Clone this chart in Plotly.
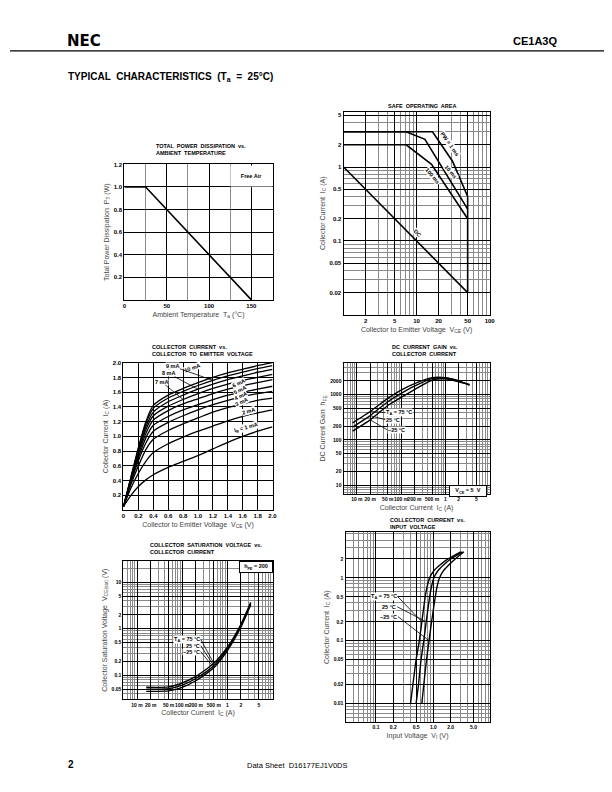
import math
import plotly.graph_objects as go

W, H = 612, 792

# ---- total power dissipation vs ambient temperature
pt_temp = [0, 25, 150]
pt_watt = [1.0, 1.0, 0.0]

# ---- safe operating area
soa_v_1ms = [1, 16.5, 31, 50, 50]
soa_i_1ms = [3, 3, 1.2, 0.4, 0.02]
soa_v_10ms = [1, 7.2, 13, 50]
soa_i_10ms = [3, 3, 2.37, 0.27]
soa_v_100ms = [1, 7.2, 16, 50]
soa_i_100ms = [2, 2, 1.09, 0.2]
soa_v_dc = [1, 50]
soa_i_dc = [1, 0.02]

# ---- collector current vs collector to emitter voltage (IB = 1..10 mA)
vce = [0, 0.1, 0.2, 0.3, 0.4, 0.6, 0.8, 1.0, 1.2, 1.4, 1.6, 1.8, 2.0]
ic_ib = {
    10: [0.05, 0.45, 0.85, 1.20, 1.42, 1.56, 1.65, 1.73, 1.80, 1.86, 1.91, 1.96, 2.00],
    9: [0.05, 0.44, 0.83, 1.17, 1.38, 1.52, 1.61, 1.69, 1.76, 1.82, 1.87, 1.92, 1.96],
    8: [0.05, 0.43, 0.81, 1.13, 1.33, 1.47, 1.56, 1.64, 1.71, 1.77, 1.82, 1.87, 1.91],
    7: [0.05, 0.42, 0.78, 1.09, 1.28, 1.41, 1.50, 1.58, 1.65, 1.71, 1.76, 1.80, 1.84],
    6: [0.05, 0.41, 0.75, 1.04, 1.22, 1.35, 1.44, 1.51, 1.58, 1.64, 1.69, 1.73, 1.77],
    5: [0.05, 0.40, 0.71, 0.98, 1.15, 1.27, 1.36, 1.43, 1.50, 1.56, 1.60, 1.64, 1.68],
    4: [0.05, 0.38, 0.67, 0.91, 1.07, 1.19, 1.28, 1.36, 1.43, 1.49, 1.54, 1.58, 1.61],
    3: [0.05, 0.35, 0.60, 0.82, 0.96, 1.08, 1.17, 1.25, 1.33, 1.39, 1.44, 1.49, 1.52],
    2: [0.05, 0.30, 0.50, 0.66, 0.78, 0.90, 0.99, 1.07, 1.14, 1.21, 1.27, 1.32, 1.36],
    1: [0.05, 0.20, 0.32, 0.41, 0.48, 0.58, 0.66, 0.74, 0.83, 0.92, 1.00, 1.07, 1.13],
}

# ---- DC current gain vs collector current (VCE = 5 V)
gain_ic = [0.008, 0.02, 0.05, 0.1, 0.2, 0.5, 1, 2, 3.5]
gain_75 = [235, 420, 820, 1240, 1730, 2340, 2340, 1980, 1600]
gain_25 = [190, 340, 690, 1050, 1520, 2230, 2300, 1980, 1600]
gain_m25 = [155, 275, 570, 860, 1280, 2050, 2200, 1900, 1650]

# ---- collector saturation voltage vs collector current (hFE = 200)
sat_ic = [0.016, 0.05, 0.1, 0.2, 0.5, 1, 2, 3.3]
sat_75 = [0.055, 0.056, 0.068, 0.094, 0.18, 0.40, 1.25, 3.7]
sat_25 = [0.050, 0.051, 0.061, 0.085, 0.16, 0.37, 1.18, 3.5]
sat_m25 = [0.045, 0.046, 0.055, 0.076, 0.145, 0.34, 1.10, 3.3]

# ---- collector current vs input voltage
vin_ic = [0.01, 0.02, 0.05, 0.1, 0.2, 0.5, 0.7, 1.0, 1.3, 1.6, 2.0, 2.6]
vin_75 = [0.40, 0.44, 0.50, 0.57, 0.63, 0.72, 0.77, 0.86, 1.02, 1.30, 1.80, 3.0]
vin_25 = [0.50, 0.55, 0.61, 0.68, 0.75, 0.86, 0.92, 1.02, 1.20, 1.50, 2.00, 3.2]
vin_m25 = [0.63, 0.68, 0.76, 0.84, 0.93, 1.08, 1.15, 1.28, 1.50, 1.85, 2.40, 3.4]


def fx(x):
    return x / W


def fy(y):
    return 1 - y / H


def decades(lo, hi):
    return [m * 10.0 ** e for e in range(lo, hi) for m in range(1, 10)]


TICKFONT = dict(family="Liberation Sans", size=6, color="black", weight="bold")
TITLEFONT = dict(family="Liberation Sans", size=7, color="#444")


def axis(x0, x1, anchor, title, tickvals, ticktext, minor_vals=None, **kw):
    d = dict(domain=[fx(x0), fx(x1)], anchor=anchor, showline=True, linecolor="black",
             linewidth=1.3, mirror=True, showgrid=True, gridcolor="black", gridwidth=0.9,
             ticks="", zeroline=False, tickfont=TICKFONT, tickmode="array", tickangle=0,
             tickvals=tickvals, ticktext=ticktext,
             title=dict(text=title, font=TITLEFONT, standoff=3))
    if minor_vals is not None:
        d["minor"] = dict(tickmode="array", tickvals=minor_vals, showgrid=True,
                          gridcolor="#8a8a8a", gridwidth=0.7)
    d.update(kw)
    return d


def yaxis(y0, y1, anchor, title, tickvals, ticktext, minor_vals=None, **kw):
    d = axis(0, 0, anchor, title, tickvals, ticktext, minor_vals, **kw)
    d["domain"] = [fy(y1), fy(y0)]
    return d


fig = go.Figure()
line = dict(color="black", width=1.6)
curve = dict(color="black", width=1.4, shape="spline", smoothing=0.6)

# 1
fig.add_trace(go.Scatter(x=pt_temp, y=pt_watt, mode="lines", line=line, xaxis="x", yaxis="y"))
# 2
for v, i in [(soa_v_1ms, soa_i_1ms), (soa_v_10ms, soa_i_10ms), (soa_v_100ms, soa_i_100ms), (soa_v_dc, soa_i_dc)]:
    fig.add_trace(go.Scatter(x=v, y=i, mode="lines", line=line, xaxis="x2", yaxis="y2"))
# 3
for ib, ic in ic_ib.items():
    fig.add_trace(go.Scatter(x=vce, y=ic, mode="lines", line=dict(curve, width=1.3),
                             xaxis="x3", yaxis="y3"))
# 4
for g in (gain_75, gain_25, gain_m25):
    fig.add_trace(go.Scatter(x=gain_ic, y=g, mode="lines", line=curve, xaxis="x4", yaxis="y4"))
# 5
for s in (sat_75, sat_25, sat_m25):
    fig.add_trace(go.Scatter(x=sat_ic, y=s, mode="lines", line=curve, xaxis="x5", yaxis="y5"))
# 6
for v in (vin_75, vin_25, vin_m25):
    fig.add_trace(go.Scatter(x=v, y=vin_ic, mode="lines", line=curve, xaxis="x6", yaxis="y6"))

milli = ["10 m", "20 m", "50 m", "100 m", "200 m", "500 m", "1", "2", "5"]
milli_v = [0.01, 0.02, 0.05, 0.1, 0.2, 0.5, 1, 2, 5]
SMALL = dict(TICKFONT, size=5)

fig.update_layout(
    width=W, height=792, margin=dict(l=0, r=0, t=0, b=0),
    paper_bgcolor="white", plot_bgcolor="white", showlegend=False,
    xaxis=axis(116, 266, "y", "Ambient Temperature  T<sub>a</sub> (°C)",
               [0, 50, 100, 150], ["0", "50", "100", "150"], [25, 75, 125, 175],
               range=[0, 175]),
    yaxis=yaxis(154, 290, "x", "Total Power Dissipation  P<sub>T</sub> (W)",
                [0.2, 0.4, 0.6, 0.8, 1.0, 1.2], ["0.2", "0.4", "0.6", "0.8", "1.0", "1.2"],
                range=[0, 1.2]),
    xaxis2=axis(338, 486, "y2", "Collector to Emitter Voltage  V<sub>CE</sub> (V)",
                [2, 5, 10, 20, 50, 100], ["2", "5", "10", "20", "50", "100"],
                decades(0, 2), type="log", range=[0, 2]),
    yaxis2=yaxis(101, 305, "x2", "Collector Current  I<sub>C</sub> (A)",
                 [0.02, 0.05, 0.1, 0.2, 0.5, 1, 2, 5],
                 ["0.02", "0.05", "0.1", "0.2", "0.5", "1", "2", "5"],
                 decades(-2, 1), type="log", range=[-2, 0.75]),
    xaxis3=axis(115, 266, "y3", "Collector to Emitter Voltage  V<sub>CE</sub> (V)",
                [0, 0.2, 0.4, 0.6, 0.8, 1.0, 1.2, 1.4, 1.6, 1.8, 2.0],
                ["0", "0.2", "0.4", "0.6", "0.8", "1.0", "1.2", "1.4", "1.6", "1.8", "2.0"],
                range=[0, 2.0]),
    yaxis3=yaxis(353, 501, "x3", "Collector Current  I<sub>C</sub> (A)",
                 [0.2, 0.4, 0.6, 0.8, 1.0, 1.2, 1.4, 1.6, 1.8, 2.0],
                 ["0.2", "0.4", "0.6", "0.8", "1.0", "1.2", "1.4", "1.6", "1.8", "2.0"],
                 range=[0, 2.0]),
    xaxis4=axis(338, 486, "y4", "Collector Current  I<sub>C</sub> (A)", milli_v, milli,
                decades(-3, 1), type="log", range=[-2.3, 1.0], tickfont=SMALL),
    yaxis4=yaxis(353, 485, "x4", "DC Current Gain  h<sub>FE</sub>",
                 [10, 20, 50, 100, 200, 500, 1000, 2000],
                 ["10", "20", "50", "100", "200", "500", "1000", "2000"],
                 decades(0, 4), type="log", range=[0.8, 3.7], tickfont=SMALL),
    xaxis5=axis(115, 266, "y5", "Collector Current  I<sub>C</sub> (A)", milli_v, milli,
                decades(-3, 1), type="log", range=[-2.3, 1.0], tickfont=SMALL),
    yaxis5=yaxis(552, 691, "x5", "Collector Saturation Voltage  V<sub>CE(sat)</sub> (V)",
                 [0.05, 0.1, 0.2, 0.5, 1, 2, 5, 10],
                 ["0.05", "0.1", "0.2", "0.5", "1", "2", "5", "10"],
                 decades(-2, 2), type="log", range=[-1.52, 1.46], tickfont=SMALL),
    xaxis6=axis(340, 486, "y6", "Input Voltage  V<sub>I</sub> (V)",
                [0.1, 0.2, 0.5, 1, 2, 5], ["0.1", "0.2", "0.5", "1.0", "2.0", "5.0"],
                decades(-2, 1), type="log", range=[-1.53, 0.98], tickfont=SMALL),
    yaxis6=yaxis(523, 714, "x6", "Collector Current  I<sub>C</sub> (A)",
                 [0.01, 0.02, 0.05, 0.1, 0.2, 0.5, 1, 2],
                 ["0.01", "0.02", "0.05", "0.1", "0.2", "0.5", "1", "2"],
                 decades(-3, 1), type="log", range=[-2.3, 0.73], tickfont=SMALL),
)

ann = []


def page_text(x, y, text, size, bold=False, anchor="left", color="black", family="Liberation Sans"):
    ann.append(dict(x=fx(x), y=fy(y), xref="paper", yref="paper", text=text, showarrow=False,
                    xanchor=anchor, yanchor="middle", align="left",
                    font=dict(family=family, size=size, color=color,
                              weight="bold" if bold else "normal")))


# page texts
page_text(56, 30, "NEC", 15, True, family="DejaVu Sans")
page_text(556, 30, "CE1A3Q", 11, True, "right")
page_text(57, 66, "TYPICAL  CHARACTERISTICS  (T<sub>a</sub>  =  25°C)", 10, True)
page_text(57, 756, "2", 10, True)
page_text(291, 757, "Data Sheet  D16177EJ1V0DS", 7.5, False, "center")

# chart titles
CT = 5.5
page_text(146, 139, "TOTAL  POWER  DISSIPATION  vs.<br>AMBIENT  TEMPERATURE", CT, True)
page_text(381, 95, "SAFE  OPERATING  AREA", CT, True)
page_text(142, 341, "COLLECTOR  CURRENT  vs.<br>COLLECTOR  TO  EMITTER  VOLTAGE", CT, True)
page_text(385, 341, "DC  CURRENT  GAIN  vs.<br>COLLECTOR  CURRENT", CT, True)
page_text(140, 540, "COLLECTOR  SATURATION  VOLTAGE  vs.<br>COLLECTOR  CURRENT", CT, True)
page_text(383, 514, "COLLECTOR  CURRENT  vs.<br>INPUT  VOLTAGE", CT, True)

LF = dict(family="Liberation Sans", size=5.5, color="black", weight="bold")


def label(xr, yr, x, y, text, angle=0, ax=None, ay=None, bg=None, **kw):
    d = dict(xref=xr, yref=yr, x=x, y=y, text=text, textangle=angle, font=LF,
             showarrow=ax is not None, arrowhead=0, arrowwidth=0.8, arrowcolor="black")
    if ax is not None:
        d.update(ax=ax, ay=ay)
    if bg:
        d.update(bgcolor=bg, borderpad=0)
    d.update(kw)
    ann.append(d)


lg = math.log10

# chart 1 box
label("x", "y", 150, 1.1, "Free Air", bg="white", width=41, height=20)
# chart 2 pulse labels
label("x2", "y2", lg(28.5), lg(2.05), "PW = 1 ms", 55, bg="white")
label("x2", "y2", lg(29.5), lg(0.86), "10 ms", 50, bg="white")
label("x2", "y2", lg(16.5), lg(0.75), "100 ms", 50, bg="white")
label("x2", "y2", lg(10.3), lg(0.13), "DC", 45, bg="white")
# chart 3 base current labels
label("x3", "y3", 0.92, 1.93, "10 mA", -20, bg="white")
label("x3", "y3", vce[8], ic_ib[9][8], "9 mA", 0, -40, -14, bg="white")
label("x3", "y3", vce[7], ic_ib[8][7], "8 mA", 0, -30, -16, bg="white")
label("x3", "y3", vce[6], ic_ib[7][6], "7 mA", 0, -22, -18, bg="white")
label("x3", "y3", 1.55, 1.725, "6 mA", -25, bg="white")
label("x3", "y3", 1.56, 1.635, "5 mA", -25, bg="white")
label("x3", "y3", 1.57, 1.55, "4 mA", -25, bg="white")
label("x3", "y3", 1.58, 1.46, "3 mA", -25, bg="white")
label("x3", "y3", 1.68, 1.34, "2 mA", -15, bg="white")
label("x3", "y3", 1.65, 1.12, "I<sub>B</sub> = 1 mA", -15, bg="white")
# chart 4
label("x4", "y4", lg(gain_ic[1]), lg(gain_75[1]), "T<sub>A</sub> = 75 °C", 0, 15, 1,
      bg="white", xanchor="left")
label("x4", "y4", lg(gain_ic[1]), lg(gain_25[1]), "25 °C", 0, 15, 4, bg="white", xanchor="left")
label("x4", "y4", lg(gain_ic[1]), lg(gain_m25[1]), "−25 °C", 0, 17, 10, bg="white", xanchor="left")
label("x4", "y4", lg(3.3), lg(7.6), "V<sub>CE</sub> = 5  V", bg="white",
      bordercolor="black", borderwidth=1, width=36, height=10)
# chart 5
label("x5", "y5", lg(sat_ic[4]), lg(sat_75[4]), "T<sub>A</sub> = 75 °C", 0, -13, -24,
      bg="white", xanchor="right")
label("x5", "y5", lg(sat_ic[4]), lg(sat_25[4]), "25 °C", 0, -13, -20, bg="white", xanchor="right")
label("x5", "y5", lg(sat_ic[4]), lg(sat_m25[4]), "−25 °C", 0, -13, -16, bg="white", xanchor="right")
label("x5", "y5", lg(4.3), lg(21), "h<sub>FE</sub> = 200", bg="white",
      bordercolor="black", borderwidth=1, width=32, height=10)
# chart 6
label("x6", "y6", lg(vin_75[4]), lg(vin_ic[4]), "T<sub>A</sub> = 75 °C", 0, -24, -25,
      bg="white", xanchor="right")
label("x6", "y6", lg(vin_25[4]), lg(vin_ic[4]), "25 °C", 0, -29, -15, bg="white", xanchor="right")
label("x6", "y6", lg(vin_m25[3]), lg(vin_ic[3]), "−25 °C", 0, -31, -24, bg="white", xanchor="right")

fig.update_layout(annotations=ann)
fig.add_shape(type="line", xref="paper", yref="paper", x0=0, x1=1, y0=fy(40), y1=fy(40),
              line=dict(color="black", width=1.2))

fig.write_html("out.html")
